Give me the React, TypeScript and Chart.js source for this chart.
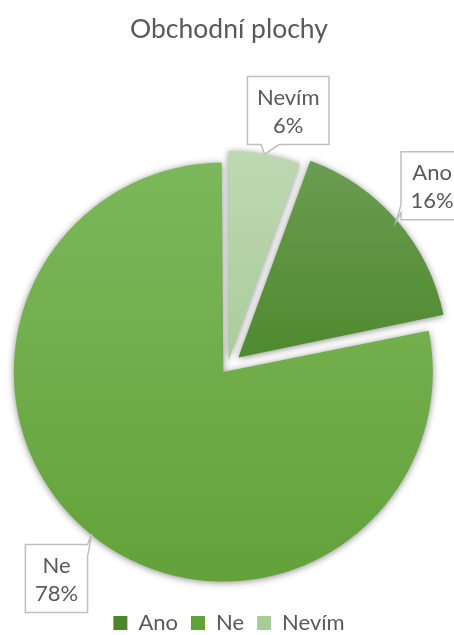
import React, { useEffect, useRef } from 'react';
import { Chart, registerables } from 'chart.js';

Chart.register(...registerables);

// ---- data ----
const categories = ['Ano', 'Ne', 'Nevím'];
const shares = [16.2, 78.2, 5.6];

// ---- styles ----
const topColors = ['#6d9d53', '#7cb75b', '#bed8b2'];
const midColors = ['#4f8a2e', '#70ad4a', '#aacd99'];
const bottomColors = ['#4c872b', '#63a23a', '#a9cc97'];
const explodeShift = [14.5, 6.5, 6.5];
const FONT = 'Lato';
const TEXT = '#595959';
const RADIUS = 209.5;

// callout box placement relative to its pointer tip
const calloutLayout = [
  { dx: 36, dy: -35.4, inset: 1, side: 'left', a: 53, b: 61 },
  { dx: -35.4, dy: 44.7, inset: 1, side: 'right', a: 0, b: 12 },
  { dx: 23.6, dy: -43.7, inset: 0, side: 'bottom', a: 13.7, b: 31.7 },
];

const total = shares.reduce((s, v) => s + v, 0);
const percentLabels = shares.map((v) => Math.round((v / total) * 100) + '%');

const fixExplodePlugin = {
  id: 'fixExplode',
  afterDatasetsUpdate(chart: any) {
    const meta = chart.getDatasetMeta(0);
    meta.data.forEach((arc: any) => {
      const off = (arc.options.offset || 0) / 4;
      const circ = arc.circumference ?? arc.endAngle - arc.startAngle;
      const fix = 1 - Math.sin(Math.min(Math.PI, circ));
      arc.outerRadius = RADIUS - off * fix;
    });
  },
};

const shadowPlugin = {
  id: 'sliceShadow',
  beforeDatasetsDraw(chart: any) {
    const c = chart.ctx;
    c.save();
    c.shadowColor = 'rgba(0,0,0,0.45)';
    c.shadowBlur = 7;
    c.shadowOffsetX = 0;
    c.shadowOffsetY = 1;
  },
  afterDatasetsDraw(chart: any) {
    chart.ctx.restore();
  },
};

const calloutPlugin = {
  id: 'callouts',
  afterDraw(chart: any) {
    const ctx = chart.ctx;
    const meta = chart.getDatasetMeta(0);
    ctx.save();
    ctx.font = `22px ${FONT}`;
    meta.data.forEach((arc: any, i: number) => {
      const lay = calloutLayout[i];
      const mid = (arc.startAngle + arc.endAngle) / 2;
      const shift = (arc.options.offset || 0) / 4;
      const rr = RADIUS + shift - lay.inset;
      const tx = arc.x + Math.cos(mid) * rr;
      const ty = arc.y + Math.sin(mid) * rr;
      const lines = [categories[i], percentLabels[i]];
      const w = Math.max(...lines.map((l) => ctx.measureText(l).width)) + 19;
      const h = 68;
      const cx = tx + lay.dx;
      const cy = ty + lay.dy;
      const x0 = cx - w / 2, y0 = cy - h / 2, x1 = cx + w / 2, y1 = cy + h / 2;
      ctx.beginPath();
      ctx.moveTo(x0, y0);
      ctx.lineTo(x1, y0);
      if (lay.side === 'right') {
        ctx.lineTo(x1, y0 + lay.a);
        ctx.lineTo(tx, ty);
        ctx.lineTo(x1, y0 + lay.b);
      }
      ctx.lineTo(x1, y1);
      if (lay.side === 'bottom') {
        ctx.lineTo(x0 + lay.b, y1);
        ctx.lineTo(tx, ty);
        ctx.lineTo(x0 + lay.a, y1);
      }
      ctx.lineTo(x0, y1);
      if (lay.side === 'left') {
        ctx.lineTo(x0, y0 + lay.b);
        ctx.lineTo(tx, ty);
        ctx.lineTo(x0, y0 + lay.a);
      }
      ctx.closePath();
      ctx.fillStyle = '#ffffff';
      ctx.fill();
      ctx.lineWidth = 1.5;
      ctx.strokeStyle = '#bfbfbf';
      ctx.stroke();
      ctx.fillStyle = TEXT;
      ctx.textAlign = 'center';
      ctx.textBaseline = 'middle';
      ctx.fillText(lines[0], cx, cy - 14 + 1);
      ctx.fillText(lines[1], cx, cy + 14 + 1);
    });
    ctx.restore();
  },
};

export default function App() {
  const canvasRef = useRef<HTMLCanvasElement | null>(null);

  useEffect(() => {
    const canvas = canvasRef.current;
    if (!canvas) return;
    const chart = new Chart(canvas, {
      type: 'pie',
      data: {
        labels: categories,
        datasets: [
          {
            data: shares,
            borderWidth: 0,
            offset: explodeShift.map((s) => s * 4),
            clip: false as any,
            backgroundColor: (c: any) => {
              const i = c.dataIndex;
              const ch = c.chart;
              const area = ch.chartArea;
              if (!area || i === undefined) return bottomColors[i ?? 0];
              const cyc = (area.top + area.bottom) / 2;
              const g = ch.ctx.createLinearGradient(0, cyc - RADIUS, 0, cyc + RADIUS);
              g.addColorStop(0, topColors[i]);
              g.addColorStop(0.5, midColors[i]);
              g.addColorStop(1, bottomColors[i]);
              return g;
            },
          },
        ],
      },
      options: {
        responsive: false,
        animation: false,
        devicePixelRatio: 1,
        radius: RADIUS,
        rotation: 20,
        layout: { padding: { left: 4, right: 0, top: 0, bottom: -9 } },
        plugins: {
          title: {
            display: true,
            text: 'Obchodní plochy',
            color: TEXT,
            font: { family: FONT, size: 26.5, weight: 'normal', lineHeight: 1.2 },
            padding: { top: 14, bottom: 89.2 },
          },
          subtitle: {
            display: true,
            text: '',
            position: 'right',
            fullSize: false,
            font: { family: FONT, size: 1, lineHeight: 1 },
            padding: { top: 0, bottom: 2.2 },
          },
          legend: {
            display: true,
            position: 'bottom',
            labels: {
              boxWidth: 14,
              boxHeight: 14,
              padding: 13,
              color: TEXT,
              font: { family: FONT, size: 22 },
            },
          },
          tooltip: { enabled: false },
        },
      } as any,
      plugins: [fixExplodePlugin, shadowPlugin, calloutPlugin],
    });
    return () => chart.destroy();
  }, []);

  return (
    <div style={{ position: 'absolute', left: 0, top: 0, width: 454, height: 635, background: '#ffffff' }}>
      <canvas ref={canvasRef} width={454} height={635} style={{ width: 454, height: 635, display: 'block' }} />
    </div>
  );
}
